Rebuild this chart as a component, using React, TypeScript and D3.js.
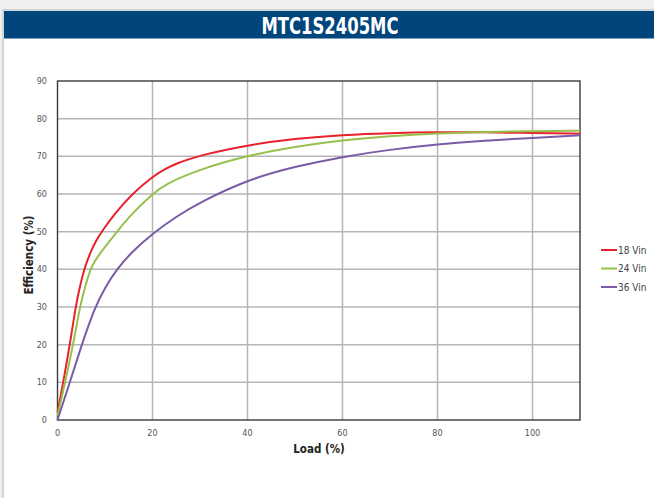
import React from "react";
import * as d3 from "d3";

const title = "MTC1S2405MC";
const xTicks = [0, 20, 40, 60, 80, 100];
const yTicks = [0, 10, 20, 30, 40, 50, 60, 70, 80, 90];
const seriesNames = ["18 Vin", "24 Vin", "36 Vin"];
const seriesColors = ["#e8212b", "#96c04b", "#7a5ca6"];

const load18 = [0, 1.2, 2.6, 3.8, 4.7, 5.6, 6.8, 8.2, 9.3, 12.1, 15.7, 20, 22.6, 25, 30, 40, 50, 60, 70, 80, 90, 100, 110];
const eff18 = [2, 10, 20, 30, 35.4, 40, 44.2, 47.8, 50, 54.9, 60, 64.6, 66.6, 68.1, 70.3, 73, 74.7, 75.7, 76.2, 76.4, 76.4, 76.2, 76];
const load24 = [0, 1.6, 3.3, 4.7, 5.8, 7.05, 8, 9.3, 12.5, 15.5, 20, 22.6, 30, 40, 50, 60, 70, 80, 90, 100, 110];
const eff24 = [1, 10, 20, 30, 35.4, 40.5, 42.5, 44.8, 50, 54.6, 60, 62.6, 66.6, 70.2, 72.6, 74.3, 75.4, 76.1, 76.5, 76.7, 76.8];
const load36 = [0, 2.6, 5.1, 7.75, 10, 12.5, 15.3, 20, 25, 30, 40, 50, 60, 70, 80, 90, 100, 110];
const eff36 = [0, 10, 20, 29.6, 35.2, 40, 44.2, 49.5, 54, 57.8, 63.8, 67.3, 69.9, 71.8, 73.2, 74.2, 74.9, 75.6];

const W = 654;
const H = 498;
const m = { left: 57.5, right: 580, top: 81, bottom: 420 };

export default function App() {
  const x = d3.scaleLinear().domain([0, 110]).range([m.left, m.right]);
  const y = d3.scaleLinear().domain([0, 90]).range([m.bottom, m.top]);
  const line = d3
    .line<[number, number]>()
    .x((d) => x(d[0]))
    .y((d) => y(d[1]))
    .curve(d3.curveBasis);
  const series = [
    load18.map((l, i) => [l, eff18[i]] as [number, number]),
    load24.map((l, i) => [l, eff24[i]] as [number, number]),
    load36.map((l, i) => [l, eff36[i]] as [number, number]),
  ];
  const tickFont = "'Liberation Sans Narrow', 'DejaVu Sans Condensed', Roboto, sans-serif";
  return (
    <svg
      width={W}
      height={H}
      style={{ position: "absolute", left: 0, top: 0, display: "block" }}
    >
      <rect x={0} y={0} width={W} height={H} fill="#eef0ef" />
      <rect x={3} y={10} width={W} height={H} fill="#ffffff" stroke="#c9cccc" strokeWidth={1.5} />
      <rect x={4} y={11} width={W} height={27.5} fill="#00457c" />
      <text
        x={330}
        y={34}
        textAnchor="middle"
        fill="#ffffff"
        fontFamily="'Liberation Sans Narrow', 'DejaVu Sans Condensed', Roboto, sans-serif"
        fontWeight="bold"
        fontSize={23}
        textLength={137}
        lengthAdjust="spacingAndGlyphs"
      >
        {title}
      </text>

      {xTicks.map((t) =>
        t === 0 ? null : (
          <line key={"gx" + t} x1={x(t)} x2={x(t)} y1={m.top} y2={m.bottom} stroke="#b5b5b5" strokeWidth={1.5} />
        )
      )}
      {yTicks.map((t) =>
        t === 0 || t === 90 ? null : (
          <line key={"gy" + t} x1={m.left} x2={m.right} y1={y(t)} y2={y(t)} stroke="#b5b5b5" strokeWidth={1.5} />
        )
      )}
      <rect
        x={m.left}
        y={m.top}
        width={m.right - m.left}
        height={m.bottom - m.top}
        fill="none"
        stroke="#3a3a3a"
        strokeWidth={1.4}
      />

      {series.map((s, i) => (
        <path key={i} d={line(s) || ""} fill="none" stroke={seriesColors[i]} strokeWidth={2} />
      ))}

      {yTicks.map((t) => (
        <text key={"ty" + t} x={47} y={y(t) + 3} textAnchor="end" fontSize={9} fill="#555" fontFamily={tickFont}>
          {t}
        </text>
      ))}
      {xTicks.map((t) => (
        <text key={"tx" + t} x={x(t)} y={436} textAnchor="middle" fontSize={9} fill="#555" fontFamily={tickFont}>
          {t}
        </text>
      ))}
      <text x={319} y={453} textAnchor="middle" fontSize={11.5} fill="#222" fontFamily={tickFont} fontWeight="bold">
        Load  (%)
      </text>
      <text
        transform="translate(33,255) rotate(-90)"
        textAnchor="middle"
        fontSize={11.5}
        fill="#222"
        fontFamily={tickFont}
        fontWeight="bold"
      >
        Efficiency (%)
      </text>

      {seriesNames.map((n, i) => (
        <g key={n} transform={`translate(0,${250 + i * 18.5})`}>
          <line x1={601} x2={617} y1={0} y2={0} stroke={seriesColors[i]} strokeWidth={2} />
          <text x={618} y={3.5} fontSize={10} fill="#444" fontFamily={tickFont}>
            {n}
          </text>
        </g>
      ))}
    </svg>
  );
}
